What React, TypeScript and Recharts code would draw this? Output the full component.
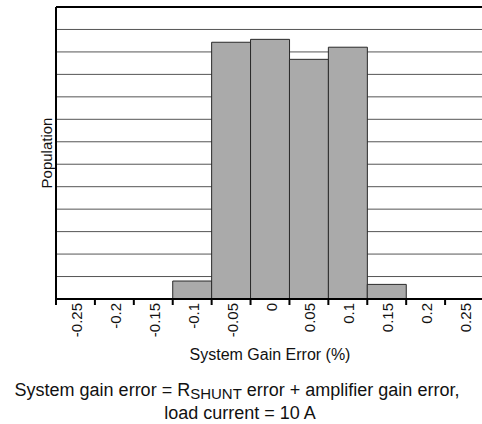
import { BarChart, Bar, XAxis, YAxis, CartesianGrid, ReferenceLine } from "recharts"

// histogram bins (%), and bar heights in grid units
const bins = ["-0.25", "-0.2", "-0.15", "-0.1", "-0.05", "0", "0.05", "0.1", "0.15", "0.2", "0.25"]
const population = [0, 0, 0, 0.8, 11.43, 11.56, 10.67, 11.21, 0.65, 0, 0]
const yTicks = [0, 1, 2, 3, 4, 5, 6, 7, 8, 9, 10, 11, 12, 13]

const data = bins.map((bin, i) => ({ bin, population: population[i] }))

const FONT = "'Liberation Sans', Arial, sans-serif"
const CHART_W = 490
const CHART_H = 424
const MARGIN = { top: 7, right: 6, left: 0, bottom: 0 }
const Y_AXIS_W = 56
const X_AXIS_H = 125
const PLOT_W = CHART_W - MARGIN.left - MARGIN.right - Y_AXIS_W
const BAND = PLOT_W / bins.length

// tick mark sits on the left edge of each bin, label in the middle
const BinTick = (props: any) => {
  const { x, y, payload } = props
  const edge = x - BAND / 2
  return (
    <g>
      <line x1={edge} y1={y} x2={edge} y2={y + 6} stroke="#000" strokeWidth={2} />
      <text
        x={x + 6.5}
        y={y + 4}
        transform={`rotate(-90, ${x + 6.5}, ${y + 4})`}
        textAnchor="end"
        fontSize={15}
        fontFamily={FONT}
        fill="#111"
      >
        {payload.value}
      </text>
    </g>
  )
}

const XLabel = (props: any) => {
  const { viewBox } = props
  return (
    <text
      x={viewBox.x + viewBox.width / 2}
      y={viewBox.y + 61}
      textAnchor="middle"
      fontSize={16}
      fontFamily={FONT}
      fill="#111"
    >
      System Gain Error (%)
    </text>
  )
}

const YLabel = () => {
  const cx = 52
  const cy = MARGIN.top + (CHART_H - MARGIN.top - X_AXIS_H) / 2
  return (
    <text
      x={cx}
      y={cy}
      transform={`rotate(-90, ${cx}, ${cy})`}
      textAnchor="middle"
      fontSize={15}
      fontFamily={FONT}
      fill="#111"
    >
      Population
    </text>
  )
}

// y ticks are kept for the grid, but nothing is drawn for them
const NoTick = () => <g />

export default function App() {
  return (
    <div style={{ position: "absolute", left: 0, top: 0, width: 482, height: 424, overflow: "hidden", background: "#fff" }}>
      <BarChart width={CHART_W} height={CHART_H} data={data} margin={MARGIN} barCategoryGap={0}>
        <CartesianGrid vertical={false} stroke="#555" strokeWidth={1} />
        <XAxis
          dataKey="bin"
          interval={0}
          height={X_AXIS_H}
          tickSize={0}
          tickMargin={0}
          tickLine={false}
          tick={<BinTick />}
          axisLine={{ stroke: "#000", strokeWidth: 2 }}
          label={<XLabel />}
        />
        <YAxis
          width={Y_AXIS_W}
          domain={[0, 13]}
          ticks={yTicks}
          interval={0}
          tick={<NoTick />}
          tickLine={false}
          axisLine={{ stroke: "#000", strokeWidth: 2 }}
          label={<YLabel />}
        />
        <Bar dataKey="population" fill="#aaaaaa" stroke="#2a2a2a" strokeWidth={1} isAnimationActive={false} />
        <ReferenceLine y={13} stroke="#000" strokeWidth={2} />
      </BarChart>
      <svg width={482} height={424} style={{ position: "absolute", left: 0, top: 0, pointerEvents: "none" }}>
        <text x={237} y={396} textAnchor="middle" fontSize={18} fontFamily={FONT} fill="#111">
          System gain error = R
          <tspan fontSize={15} dy={3}>SHUNT</tspan>
          <tspan dy={-3}> error + amplifier gain error,</tspan>
        </text>
        <text x={240} y={419} textAnchor="middle" fontSize={18} fontFamily={FONT} fill="#111">
          load current = 10 A
        </text>
      </svg>
    </div>
  )
}
